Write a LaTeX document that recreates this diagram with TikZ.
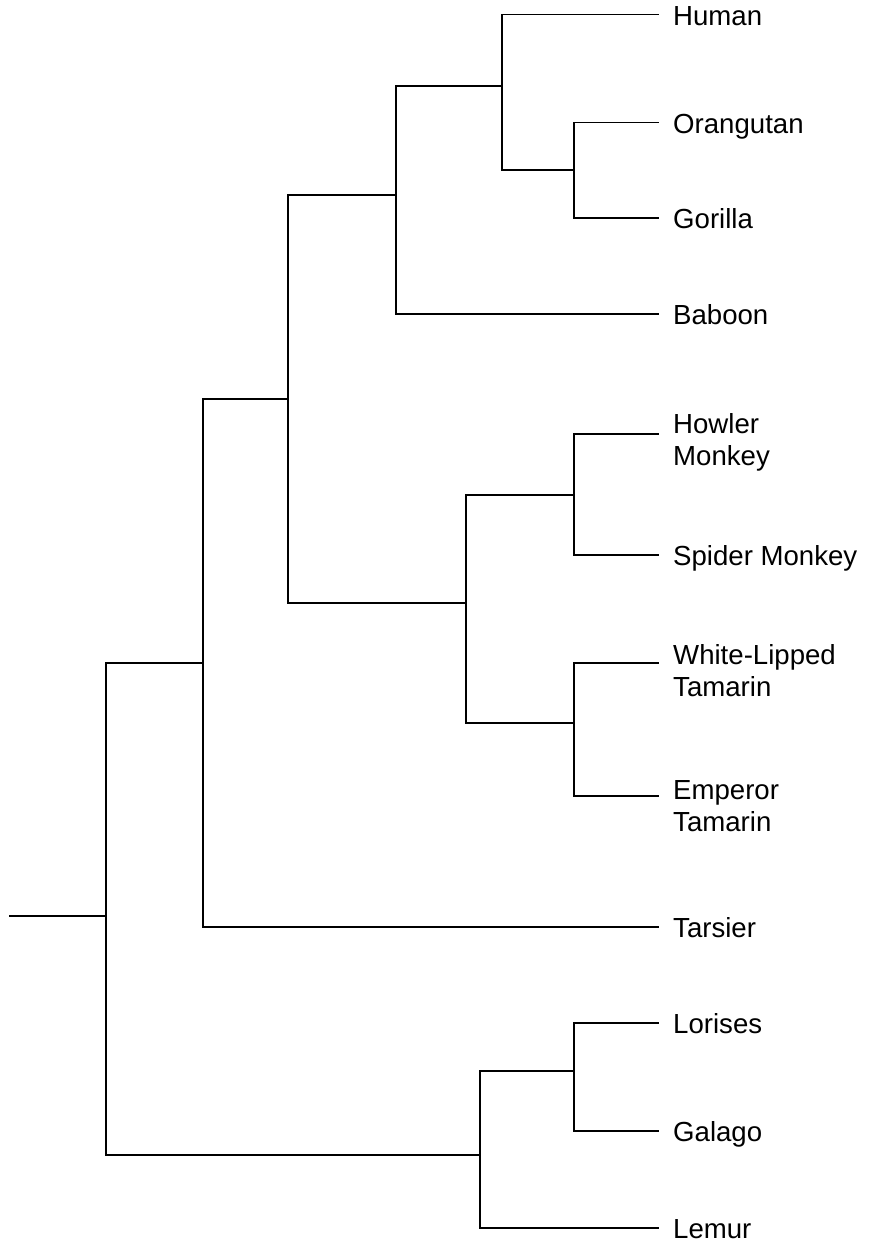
\documentclass[tikz,border=0pt]{standalone}
\usepackage{fontspec}
\setmainfont{Liberation Sans}
\begin{document}
\begin{tikzpicture}[x=1bp,y=-1bp,
  branch/.style={line width=1.9bp, line cap=rect, line join=miter, black},
  taxon/.style={anchor=base west, inner sep=0pt, font=\fontsize{27.6bp}{32bp}\selectfont}]
\useasboundingbox (0,0) rectangle (869,1243);
% leaf tips
\coordinate (tHuman) at (658,14.5);
\coordinate (tOrang) at (658,122.5);
\coordinate (tGor) at (658,218);
\coordinate (tBab) at (658,314);
\coordinate (tHow) at (658,434);
\coordinate (tSpi) at (658,555);
\coordinate (tWLT) at (658,663);
\coordinate (tET) at (658,796);
\coordinate (tTar) at (658,927);
\coordinate (tLor) at (658,1023);
\coordinate (tGal) at (658,1131);
\coordinate (tLem) at (658,1228);
% labels
\node[taxon] (Human) at (673,25) {Human};
\node[taxon] (Orang) at (673,133) {Orangutan};
\node[taxon] (Gor) at (673,228.5) {Gorilla};
\node[taxon] (Bab) at (673,324.5) {Baboon};
\node[taxon] (How) at (673,433) {\begin{tabular}[t]{@{}l@{}}Howler\\Monkey\end{tabular}};
\node[taxon] (Spi) at (673,565) {Spider Monkey};
\node[taxon] (WLT) at (673,664) {\begin{tabular}[t]{@{}l@{}}White-Lipped\\Tamarin\end{tabular}};
\node[taxon] (ET) at (673,799) {\begin{tabular}[t]{@{}l@{}}Emperor\\Tamarin\end{tabular}};
\node[taxon] (Tar) at (673,937.5) {Tarsier};
\node[taxon] (Lor) at (673,1033.5) {Lorises};
\node[taxon] (Gal) at (673,1141.5) {Galago};
\node[taxon] (Lem) at (673,1238.5) {Lemur};
% internal nodes
\coordinate (nOG) at (574,170);
\coordinate (nHOG) at (502,86);
\coordinate (nHOGB) at (396,195);
\coordinate (nHS) at (574,495);
\coordinate (nTT) at (574,723);
\coordinate (nNW) at (466,603);
\coordinate (nAnth) at (288,399);
\coordinate (nHap) at (203,663);
\coordinate (nLG) at (574,1071);
\coordinate (nStr) at (480,1155);
\coordinate (root) at (106,916);
\coordinate (start) at (10,916);
% branches
\draw[branch] (nOG) |- (tOrang);
\draw[branch] (nOG) |- (tGor);
\draw[branch] (nHOG) |- (tHuman);
\draw[branch] (nHOG) |- (nOG);
\draw[branch] (nHOGB) |- (nHOG);
\draw[branch] (nHOGB) |- (tBab);
\draw[branch] (nHS) |- (tHow);
\draw[branch] (nHS) |- (tSpi);
\draw[branch] (nTT) |- (tWLT);
\draw[branch] (nTT) |- (tET);
\draw[branch] (nNW) |- (nHS);
\draw[branch] (nNW) |- (nTT);
\draw[branch] (nAnth) |- (nHOGB);
\draw[branch] (nAnth) |- (nNW);
\draw[branch] (nHap) |- (nAnth);
\draw[branch] (nHap) |- (tTar);
\draw[branch] (nLG) |- (tLor);
\draw[branch] (nLG) |- (tGal);
\draw[branch] (nStr) |- (nLG);
\draw[branch] (nStr) |- (tLem);
\draw[branch] (root) |- (nHap);
\draw[branch] (root) |- (nStr);
\draw[branch] (start) -- (root);
\end{tikzpicture}
\end{document}
